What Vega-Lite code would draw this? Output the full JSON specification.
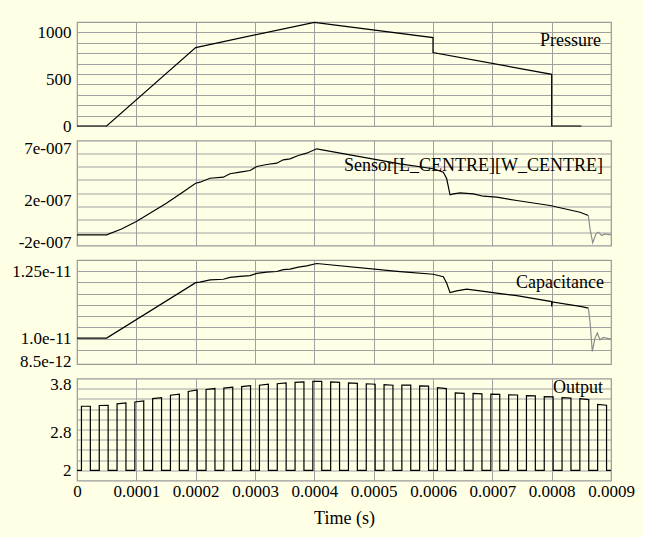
{
  "$schema": "https://vega.github.io/schema/vega-lite/v6.json",
  "padding": {"left": 11, "top": 19, "right": 8, "bottom": 8},
  "background": "#FFFFE6",
  "bounds": "flush",
  "spacing": 14.5,
  "datasets": {
    "pressure": [
      {"i": 0, "t": 0, "v": 0},
      {"i": 1, "t": 0.00005, "v": 0},
      {"i": 2, "t": 0.0002, "v": 838},
      {"i": 3, "t": 0.0004, "v": 1108},
      {"i": 4, "t": 0.0006, "v": 944},
      {"i": 5, "t": 0.0006, "v": 784},
      {"i": 6, "t": 0.0008, "v": 552},
      {"i": 7, "t": 0.0008, "v": 0},
      {"i": 8, "t": 0.00085, "v": 0}
    ],
    "sensor": [
      {"i": 0, "t": 0, "v": -1.30e-7, "s": "main"},
      {"i": 1, "t": 0.00005, "v": -1.30e-7, "s": "main"},
      {"i": 2, "t": 0.000075, "v": -7.43e-8, "s": "main"},
      {"i": 3, "t": 0.0001, "v": -2.1e-9, "s": "main"},
      {"i": 4, "t": 0.000125, "v": 8.44e-8, "s": "main"},
      {"i": 5, "t": 0.00015, "v": 1.71e-7, "s": "main"},
      {"i": 6, "t": 0.000175, "v": 2.67e-7, "s": "main"},
      {"i": 7, "t": 0.0002, "v": 3.66e-7, "s": "main"},
      {"i": 8, "t": 0.0002073, "v": 3.76e-7, "s": "main"},
      {"i": 9, "t": 0.0002242, "v": 4.14e-7, "s": "main"},
      {"i": 10, "t": 0.0002466, "v": 4.24e-7, "s": "main"},
      {"i": 11, "t": 0.0002579, "v": 4.57e-7, "s": "main"},
      {"i": 12, "t": 0.0002747, "v": 4.72e-7, "s": "main"},
      {"i": 13, "t": 0.0002916, "v": 4.88e-7, "s": "main"},
      {"i": 14, "t": 0.0003029, "v": 5.27e-7, "s": "main"},
      {"i": 15, "t": 0.0003197, "v": 5.46e-7, "s": "main"},
      {"i": 16, "t": 0.0003366, "v": 5.59e-7, "s": "main"},
      {"i": 17, "t": 0.0003477, "v": 5.91e-7, "s": "main"},
      {"i": 18, "t": 0.000359, "v": 6.01e-7, "s": "main"},
      {"i": 19, "t": 0.000373, "v": 6.33e-7, "s": "main"},
      {"i": 20, "t": 0.0003871, "v": 6.55e-7, "s": "main"},
      {"i": 21, "t": 0.000404, "v": 6.97e-7, "s": "main"},
      {"i": 22, "t": 0.0005444, "v": 5.53e-7, "s": "main"},
      {"i": 23, "t": 0.0006005, "v": 5.05e-7, "s": "main"},
      {"i": 24, "t": 0.0006174, "v": 4.72e-7, "s": "main"},
      {"i": 25, "t": 0.0006231, "v": 4.09e-7, "s": "main"},
      {"i": 26, "t": 0.0006287, "v": 2.55e-7, "s": "main"},
      {"i": 27, "t": 0.0006342, "v": 2.64e-7, "s": "main"},
      {"i": 28, "t": 0.0006455, "v": 2.74e-7, "s": "main"},
      {"i": 29, "t": 0.0006679, "v": 2.64e-7, "s": "main"},
      {"i": 30, "t": 0.0006848, "v": 2.41e-7, "s": "main"},
      {"i": 31, "t": 0.0007074, "v": 2.32e-7, "s": "main"},
      {"i": 32, "t": 0.0007411, "v": 2.00e-7, "s": "main"},
      {"i": 33, "t": 0.0007972, "v": 1.52e-7, "s": "main"},
      {"i": 34, "t": 0.0008478, "v": 8.7e-8, "s": "main"},
      {"i": 35, "t": 0.0008618, "v": 5.6e-8, "s": "main"},
      {"i": 36, "t": 0.0008618, "v": 5.6e-8, "s": "tail"},
      {"i": 37, "t": 0.0008646, "v": -7.2e-8, "s": "tail"},
      {"i": 38, "t": 0.0008692, "v": -2.07e-7, "s": "tail"},
      {"i": 39, "t": 0.0008747, "v": -1.21e-7, "s": "tail"},
      {"i": 40, "t": 0.0008786, "v": -1.05e-7, "s": "tail"},
      {"i": 41, "t": 0.0008843, "v": -1.37e-7, "s": "tail"},
      {"i": 42, "t": 0.0008899, "v": -1.21e-7, "s": "tail"},
      {"i": 43, "t": 0.0009, "v": -1.30e-7, "s": "tail"}
    ],
    "capacitance": [
      {"i": 0, "t": 0, "v": 1.0021e-11, "s": "main"},
      {"i": 1, "t": 0.00005, "v": 1.0021e-11, "s": "main"},
      {"i": 2, "t": 0.0002, "v": 1.2077e-11, "s": "main"},
      {"i": 3, "t": 0.0002073, "v": 1.2099e-11, "s": "main"},
      {"i": 4, "t": 0.0002242, "v": 1.2181e-11, "s": "main"},
      {"i": 5, "t": 0.0002466, "v": 1.2203e-11, "s": "main"},
      {"i": 6, "t": 0.0002579, "v": 1.2273e-11, "s": "main"},
      {"i": 7, "t": 0.0002747, "v": 1.2306e-11, "s": "main"},
      {"i": 8, "t": 0.0002916, "v": 1.2340e-11, "s": "main"},
      {"i": 9, "t": 0.0003029, "v": 1.2421e-11, "s": "main"},
      {"i": 10, "t": 0.0003197, "v": 1.2466e-11, "s": "main"},
      {"i": 11, "t": 0.0003366, "v": 1.2491e-11, "s": "main"},
      {"i": 12, "t": 0.0003477, "v": 1.2562e-11, "s": "main"},
      {"i": 13, "t": 0.000359, "v": 1.2580e-11, "s": "main"},
      {"i": 14, "t": 0.000373, "v": 1.2650e-11, "s": "main"},
      {"i": 15, "t": 0.0003871, "v": 1.2698e-11, "s": "main"},
      {"i": 16, "t": 0.000404, "v": 1.2787e-11, "s": "main"},
      {"i": 17, "t": 0.0005444, "v": 1.2484e-11, "s": "main"},
      {"i": 18, "t": 0.0006005, "v": 1.2388e-11, "s": "main"},
      {"i": 19, "t": 0.0006174, "v": 1.2299e-11, "s": "main"},
      {"i": 20, "t": 0.0006231, "v": 1.2055e-11, "s": "main"},
      {"i": 21, "t": 0.0006287, "v": 1.1707e-11, "s": "main"},
      {"i": 22, "t": 0.00064, "v": 1.1770e-11, "s": "main"},
      {"i": 23, "t": 0.0006568, "v": 1.1833e-11, "s": "main"},
      {"i": 24, "t": 0.0006792, "v": 1.1770e-11, "s": "main"},
      {"i": 25, "t": 0.0007074, "v": 1.1685e-11, "s": "main"},
      {"i": 26, "t": 0.0007411, "v": 1.1597e-11, "s": "main"},
      {"i": 27, "t": 0.0008, "v": 1.1375e-11, "s": "main"},
      {"i": 28, "t": 0.0008, "v": 1.1190e-11, "s": "main"},
      {"i": 29, "t": 0.000801, "v": 1.1362e-11, "s": "main"},
      {"i": 30, "t": 0.0008506, "v": 1.1190e-11, "s": "main"},
      {"i": 31, "t": 0.0008618, "v": 1.1131e-11, "s": "main"},
      {"i": 32, "t": 0.0008618, "v": 1.1131e-11, "s": "tail"},
      {"i": 33, "t": 0.0008646, "v": 1.0635e-11, "s": "tail"},
      {"i": 34, "t": 0.0008685, "v": 9.526e-12, "s": "tail"},
      {"i": 35, "t": 0.000873, "v": 1.0021e-11, "s": "tail"},
      {"i": 36, "t": 0.0008769, "v": 1.0206e-11, "s": "tail"},
      {"i": 37, "t": 0.0008815, "v": 9.958e-12, "s": "tail"},
      {"i": 38, "t": 0.000887, "v": 1.0043e-11, "s": "tail"},
      {"i": 39, "t": 0.0008983, "v": 9.995e-12, "s": "tail"},
      {"i": 40, "t": 0.0009, "v": 1.0e-11, "s": "tail"}
    ],
    "output": [
      {"i": 0, "t": 0, "v": 2},
      {"i": 1, "t": 0.0000075, "v": 2}, {"i": 2, "t": 0.0000075, "v": 3.34}, {"i": 3, "t": 0.0000225, "v": 3.34}, {"i": 4, "t": 0.0000225, "v": 2},
      {"i": 5, "t": 0.0000375, "v": 2}, {"i": 6, "t": 0.0000375, "v": 3.355}, {"i": 7, "t": 0.0000525, "v": 3.36}, {"i": 8, "t": 0.0000525, "v": 2},
      {"i": 9, "t": 0.0000675, "v": 2}, {"i": 10, "t": 0.0000675, "v": 3.39}, {"i": 11, "t": 0.0000825, "v": 3.41}, {"i": 12, "t": 0.0000825, "v": 2},
      {"i": 13, "t": 0.0000975, "v": 2}, {"i": 14, "t": 0.0000975, "v": 3.43}, {"i": 15, "t": 0.0001125, "v": 3.45}, {"i": 16, "t": 0.0001125, "v": 2},
      {"i": 17, "t": 0.0001275, "v": 2}, {"i": 18, "t": 0.0001275, "v": 3.50}, {"i": 19, "t": 0.0001425, "v": 3.52}, {"i": 20, "t": 0.0001425, "v": 2},
      {"i": 21, "t": 0.0001575, "v": 2}, {"i": 22, "t": 0.0001575, "v": 3.57}, {"i": 23, "t": 0.0001725, "v": 3.59}, {"i": 24, "t": 0.0001725, "v": 2},
      {"i": 25, "t": 0.0001875, "v": 2}, {"i": 26, "t": 0.0001875, "v": 3.65}, {"i": 27, "t": 0.0002025, "v": 3.68}, {"i": 28, "t": 0.0002025, "v": 2},
      {"i": 29, "t": 0.0002175, "v": 2}, {"i": 30, "t": 0.0002175, "v": 3.69}, {"i": 31, "t": 0.0002325, "v": 3.71}, {"i": 32, "t": 0.0002325, "v": 2},
      {"i": 33, "t": 0.0002475, "v": 2}, {"i": 34, "t": 0.0002475, "v": 3.72}, {"i": 35, "t": 0.0002625, "v": 3.74}, {"i": 36, "t": 0.0002625, "v": 2},
      {"i": 37, "t": 0.0002775, "v": 2}, {"i": 38, "t": 0.0002775, "v": 3.75}, {"i": 39, "t": 0.0002925, "v": 3.77}, {"i": 40, "t": 0.0002925, "v": 2},
      {"i": 41, "t": 0.0003075, "v": 2}, {"i": 42, "t": 0.0003075, "v": 3.78}, {"i": 43, "t": 0.0003225, "v": 3.80}, {"i": 44, "t": 0.0003225, "v": 2},
      {"i": 45, "t": 0.0003375, "v": 2}, {"i": 46, "t": 0.0003375, "v": 3.81}, {"i": 47, "t": 0.0003525, "v": 3.83}, {"i": 48, "t": 0.0003525, "v": 2},
      {"i": 49, "t": 0.0003675, "v": 2}, {"i": 50, "t": 0.0003675, "v": 3.84}, {"i": 51, "t": 0.0003825, "v": 3.85}, {"i": 52, "t": 0.0003825, "v": 2},
      {"i": 53, "t": 0.0003975, "v": 2}, {"i": 54, "t": 0.0003975, "v": 3.86}, {"i": 55, "t": 0.0004125, "v": 3.86}, {"i": 56, "t": 0.0004125, "v": 2},
      {"i": 57, "t": 0.0004275, "v": 2}, {"i": 58, "t": 0.0004275, "v": 3.85}, {"i": 59, "t": 0.0004425, "v": 3.84}, {"i": 60, "t": 0.0004425, "v": 2},
      {"i": 61, "t": 0.0004575, "v": 2}, {"i": 62, "t": 0.0004575, "v": 3.83}, {"i": 63, "t": 0.0004725, "v": 3.82}, {"i": 64, "t": 0.0004725, "v": 2},
      {"i": 65, "t": 0.0004875, "v": 2}, {"i": 66, "t": 0.0004875, "v": 3.81}, {"i": 67, "t": 0.0005025, "v": 3.80}, {"i": 68, "t": 0.0005025, "v": 2},
      {"i": 69, "t": 0.0005175, "v": 2}, {"i": 70, "t": 0.0005175, "v": 3.79}, {"i": 71, "t": 0.0005325, "v": 3.78}, {"i": 72, "t": 0.0005325, "v": 2},
      {"i": 73, "t": 0.0005475, "v": 2}, {"i": 74, "t": 0.0005475, "v": 3.78}, {"i": 75, "t": 0.0005625, "v": 3.78}, {"i": 76, "t": 0.0005625, "v": 2},
      {"i": 77, "t": 0.0005775, "v": 2}, {"i": 78, "t": 0.0005775, "v": 3.765}, {"i": 79, "t": 0.0005925, "v": 3.76}, {"i": 80, "t": 0.0005925, "v": 2},
      {"i": 81, "t": 0.0006075, "v": 2}, {"i": 82, "t": 0.0006075, "v": 3.73}, {"i": 83, "t": 0.0006225, "v": 3.71}, {"i": 84, "t": 0.0006225, "v": 2},
      {"i": 85, "t": 0.0006375, "v": 2}, {"i": 86, "t": 0.0006375, "v": 3.62}, {"i": 87, "t": 0.0006525, "v": 3.61}, {"i": 88, "t": 0.0006525, "v": 2},
      {"i": 89, "t": 0.0006675, "v": 2}, {"i": 90, "t": 0.0006675, "v": 3.61}, {"i": 91, "t": 0.0006825, "v": 3.60}, {"i": 92, "t": 0.0006825, "v": 2},
      {"i": 93, "t": 0.0006975, "v": 2}, {"i": 94, "t": 0.0006975, "v": 3.595}, {"i": 95, "t": 0.0007125, "v": 3.59}, {"i": 96, "t": 0.0007125, "v": 2},
      {"i": 97, "t": 0.0007275, "v": 2}, {"i": 98, "t": 0.0007275, "v": 3.58}, {"i": 99, "t": 0.0007425, "v": 3.575}, {"i": 100, "t": 0.0007425, "v": 2},
      {"i": 101, "t": 0.0007575, "v": 2}, {"i": 102, "t": 0.0007575, "v": 3.56}, {"i": 103, "t": 0.0007725, "v": 3.555}, {"i": 104, "t": 0.0007725, "v": 2},
      {"i": 105, "t": 0.0007875, "v": 2}, {"i": 106, "t": 0.0007875, "v": 3.54}, {"i": 107, "t": 0.0008025, "v": 3.535}, {"i": 108, "t": 0.0008025, "v": 2},
      {"i": 109, "t": 0.0008175, "v": 2}, {"i": 110, "t": 0.0008175, "v": 3.52}, {"i": 111, "t": 0.0008325, "v": 3.51}, {"i": 112, "t": 0.0008325, "v": 2},
      {"i": 113, "t": 0.0008475, "v": 2}, {"i": 114, "t": 0.0008475, "v": 3.50}, {"i": 115, "t": 0.0008625, "v": 3.48}, {"i": 116, "t": 0.0008625, "v": 2},
      {"i": 117, "t": 0.0008775, "v": 2}, {"i": 118, "t": 0.0008775, "v": 3.38}, {"i": 119, "t": 0.0008925, "v": 3.36}, {"i": 120, "t": 0.0008925, "v": 2},
      {"i": 121, "t": 0.0009, "v": 2}
    ]
  },
  "vconcat": [
    {
      "width": 534, "height": 104,
      "data": {"name": "pressure"},
      "title": {"text": "Pressure", "anchor": "end", "frame": "group", "offset": -30, "dx": -10},
      "mark": {"type": "line"},
      "encoding": {
        "x": {"field": "t", "type": "quantitative", "scale": {"domain": [0, 0.0009], "nice": false, "zero": false},
              "axis": {"labels": false, "title": null, "values": [0, 0.0001, 0.0002, 0.0003, 0.0004, 0.0005, 0.0006, 0.0007, 0.0008, 0.0009]}},
        "y": {"field": "v", "type": "quantitative", "scale": {"domain": [0, 1111.111], "nice": false, "zero": false},
              "axis": {"title": null, "format": "d",
                       "values": [0, 111.111, 222.222, 333.333, 444.444, 500, 555.556, 666.667, 777.778, 888.889, 1000],
                       "labelExpr": "datum.value==0||datum.value==500||datum.value==1000 ? datum.label : ''",
                       "gridOpacity": {"condition": {"test": "datum.value==500", "value": 0}, "value": 1}}},
        "order": {"field": "i", "type": "quantitative"}
      }
    },
    {
      "width": 534, "height": 105,
      "data": {"name": "sensor"},
      "title": {"text": "Sensor[L_CENTRE][W_CENTRE]", "anchor": "end", "frame": "group", "offset": -35, "dx": -8},
      "mark": {"type": "line"},
      "encoding": {
        "x": {"field": "t", "type": "quantitative", "scale": {"domain": [0, 0.0009], "nice": false, "zero": false},
              "axis": {"labels": false, "title": null, "values": [0, 0.0001, 0.0002, 0.0003, 0.0004, 0.0005, 0.0006, 0.0007, 0.0008, 0.0009]}},
        "y": {"field": "v", "type": "quantitative", "scale": {"domain": [-2.33e-7, 7.77e-7], "nice": false, "zero": false},
              "axis": {"title": null,
                       "values": [-2e-7, -1.0675e-7, 1.95e-8, 1.4575e-7, 2e-7, 2.72e-7, 3.9825e-7, 5.245e-7, 6.5075e-7, 7e-7],
                       "labelExpr": "datum.value==7e-7 ? '7e-007' : datum.value==2e-7 ? '2e-007' : datum.value==-2e-7 ? '-2e-007' : ''",
                       "gridOpacity": {"condition": {"test": "datum.value==7e-7||datum.value==2e-7||datum.value==-2e-7", "value": 0}, "value": 1}}},
        "color": {"field": "s", "type": "nominal", "scale": {"domain": ["main", "tail"], "range": ["#000000", "#8c8c8c"]}, "legend": null},
        "order": {"field": "i", "type": "quantitative"}
      }
    },
    {
      "width": 534, "height": 104,
      "data": {"name": "capacitance"},
      "title": {"text": "Capacitance", "anchor": "end", "frame": "group", "offset": -32, "dx": -7},
      "mark": {"type": "line"},
      "encoding": {
        "x": {"field": "t", "type": "quantitative", "scale": {"domain": [0, 0.0009], "nice": false, "zero": false},
              "axis": {"labels": false, "title": null, "values": [0, 0.0001, 0.0002, 0.0003, 0.0004, 0.0005, 0.0006, 0.0007, 0.0008, 0.0009]}},
        "y": {"field": "v", "type": "quantitative", "scale": {"domain": [9.06e-12, 1.291667e-11], "nice": false, "zero": false},
              "axis": {"title": null,
                       "values": [9.15e-12, 9.583333e-12, 1e-11, 1.0416667e-11, 1.0833333e-11, 1.125e-11, 1.1666667e-11, 1.2083333e-11, 1.25e-11],
                       "labelExpr": "datum.value==1.25e-11 ? '1.25e-11' : datum.value==1e-11 ? '1.0e-11' : datum.value==9.15e-12 ? '8.5e-12' : ''",
                       "gridOpacity": {"condition": {"test": "datum.value==9.15e-12", "value": 0}, "value": 1}}},
        "color": {"field": "s", "type": "nominal", "scale": {"domain": ["main", "tail"], "range": ["#000000", "#8c8c8c"]}, "legend": null},
        "order": {"field": "i", "type": "quantitative"}
      }
    },
    {
      "width": 534, "height": 102,
      "data": {"name": "output"},
      "title": {"text": "Output", "anchor": "end", "frame": "group", "offset": -22, "dx": -8},
      "mark": {"type": "line"},
      "encoding": {
        "x": {"field": "t", "type": "quantitative", "scale": {"domain": [0, 0.0009], "nice": false, "zero": false},
              "axis": {"title": "Time (s)", "format": ".4~f", "labelPadding": 3, "titlePadding": 10,
                       "values": [0, 0.0001, 0.0002, 0.0003, 0.0004, 0.0005, 0.0006, 0.0007, 0.0008, 0.0009]}},
        "y": {"field": "v", "type": "quantitative", "scale": {"domain": [1.78667, 3.92], "nice": false, "zero": false},
              "axis": {"title": null,
                       "values": [2, 2.21333, 2.42667, 2.64, 2.8, 2.85333, 3.06667, 3.28, 3.49333, 3.70667, 3.8],
                       "labelExpr": "datum.value==2 ? '2' : datum.value==2.8 ? '2.8' : datum.value==3.8 ? '3.8' : ''",
                       "gridOpacity": {"condition": {"test": "datum.value==2.8||datum.value==3.8", "value": 0}, "value": 1}}},
        "order": {"field": "i", "type": "quantitative"}
      }
    }
  ],
  "config": {
    "view": {"stroke": "#9a9a9a", "strokeWidth": 1.2},
    "axis": {"labelFont": "Liberation Serif", "labelFontSize": 17, "labelColor": "#000000",
             "titleFont": "Liberation Serif", "titleFontSize": 18, "titleFontWeight": "normal", "titleColor": "#000000",
             "domain": false, "ticks": false, "gridColor": "#a0a0a0", "gridWidth": 1,
             "labelOverlap": false, "labelFlush": false, "labelBound": false, "labelPadding": 6},
    "title": {"font": "Liberation Serif", "fontSize": 18, "fontWeight": "normal", "color": "#000000", "baseline": "middle"},
    "line": {"color": "#000000", "strokeWidth": 1.2}
  }
}
